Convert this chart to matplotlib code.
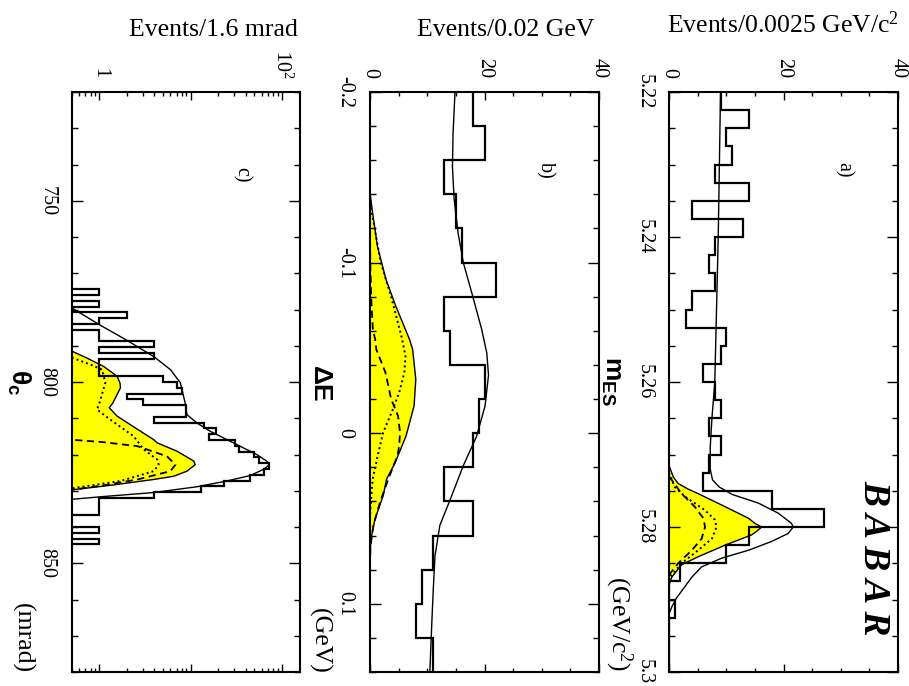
import matplotlib
matplotlib.use("Agg")
import matplotlib.pyplot as plt
import numpy as np
from matplotlib.ticker import MultipleLocator, LogLocator, NullFormatter

plt.rcParams["font.family"] = ["Liberation Serif", "DejaVu Serif"]
plt.rcParams["axes.unicode_minus"] = False
plt.rcParams["mathtext.fontset"] = "custom"
plt.rcParams["mathtext.rm"] = "Liberation Serif"
plt.rcParams["mathtext.it"] = "Liberation Serif:italic"
plt.rcParams["mathtext.bf"] = "Liberation Sans:bold"

# ---- panel a: m_ES ----
a_edges_lo, a_width = 5.22, 0.0025
a_counts = [9, 14, 10, 11, 8, 14, 4, 13, 8, 7, 8, 4, 3, 10, 9, 6,
            8, 9, 7, 9, 7, 6, 18, 27, 14, 10, 2, 0, 1, 0, 0, 0]
a_tot_x = [5.2200, 5.2300, 5.2400, 5.2500, 5.2600, 5.2650, 5.2690, 5.2720, 5.2735,
           5.2745, 5.2755, 5.2767, 5.2781, 5.2795, 5.2800, 5.2809, 5.2820, 5.2832,
           5.2843, 5.2855, 5.2869, 5.2882, 5.2898, 5.2910, 5.2920, 5.3000]
a_tot_y = [9.0, 8.8, 8.6, 8.3, 8.0, 7.5, 7.2, 7.2, 7.6,
           8.8, 11.0, 15.6, 19.1, 21.4, 21.7, 20.8, 17.9, 13.9,
           9.2, 5.7, 4.0, 2.8, 1.3, 0.5, 0.0, 0.0]
a_sig_x = [5.2715, 5.2731, 5.2740, 5.2748, 5.2754, 5.2772, 5.2788, 5.2795, 5.2800,
           5.2806, 5.2811, 5.2825, 5.2841, 5.2852, 5.2869, 5.2880]
a_sig_y = [0.0, 0.75, 1.6, 3.4, 5.1, 9.8, 13.9, 15.0, 16.2,
           15.3, 14.4, 9.8, 5.1, 2.2, 0.5, 0.0]
a_dot_x = [5.2725, 5.2745, 5.2758, 5.2777, 5.2790, 5.2800, 5.2816, 5.2832, 5.2850, 5.2869, 5.2878]
a_dot_y = [0.0, 1.0, 2.8, 6.3, 8.0, 8.3, 7.5, 5.1, 2.2, 0.2, 0.0]
a_dash_x = [5.2730, 5.2754, 5.2772, 5.2788, 5.2800, 5.2816, 5.2832, 5.2850, 5.2864, 5.2872]
a_dash_y = [0.0, 2.2, 4.5, 6.0, 6.3, 5.7, 4.0, 1.6, 0.2, 0.0]
a_ticks = [5.22, 5.24, 5.26, 5.28, 5.30]
a_ticklabels = ["5.22", "5.24", "5.26", "5.28", "5.3"]

# ---- panel b: Delta E ----
b_edges_lo, b_width = -0.20, 0.02
b_counts = [18, 20, 13, 15, 16, 22, 13, 14, 20, 19, 18, 13, 18, 11, 9, 8, 11]
b_tot_x = [-0.200, -0.175, -0.156, -0.137, -0.117, -0.100, -0.082, -0.061, -0.047,
           -0.034, -0.016, 0.002, 0.019, 0.039, 0.054, 0.072, 0.091, 0.111, 0.136, 0.140]
b_tot_y = [14.85, 14.5, 14.4, 14.7, 15.4, 16.3, 17.8, 19.5, 20.4,
           20.7, 20.1, 18.6, 16.3, 14.0, 12.2, 11.35, 11.06, 10.8, 10.5, 10.45]
b_sig_x = [-0.141, -0.129, -0.1095, -0.090, -0.0745, -0.055, -0.049, -0.0316, -0.016,
           0.0016, 0.0172, 0.0269, 0.0367, 0.0503, 0.062, 0.072]
b_sig_y = [0.0, 0.46, 1.3, 2.8, 4.5, 6.9, 7.45, 8.0, 7.7,
           6.3, 4.4, 2.9, 2.3, 0.87, 0.17, 0.0]
b_dot_x = [-0.135, -0.121, -0.0998, -0.0803, -0.056, -0.0452, -0.0355, -0.0238, -0.014,
           -0.0004, 0.0132, 0.0269, 0.0425, 0.050]
b_dot_y = [0.0, 0.76, 1.9, 3.67, 5.55, 6.2, 6.0, 5.1, 4.0,
           2.3, 1.34, 0.47, 0.1, 0.0]
b_dash_x = [-0.120, -0.100, -0.080, -0.0608, -0.055, -0.0491, -0.0355, -0.0199, -0.0101,
            -0.0004, 0.0074, 0.0132, 0.0269, 0.0405, 0.0542, 0.0659, 0.075]
b_dash_y = [0.0, 0.05, 0.2, 0.5, 0.9, 1.1, 2.7, 3.7, 4.9,
            5.24, 5.1, 4.8, 3.2, 1.75, 0.58, 0.1, 0.0]
b_ticks = [-0.2, -0.1, 0.0, 0.1]
b_ticklabels = ["-0.2", "-0.1", "0", "0.1"]

# ---- panel c: theta_c (log scale) ----
c_edges_lo, c_width = 772.8, 1.6
c_counts = [0, 1, 0, 1, 0, 2, 1, 0, 1, 1, 4, 1, 4, 1, 1, 1, 5, 7, 8, 2, 3, 9, 9,
            4, 14, 19, 16, 31, 34, 49, 56, 73, 63, 45, 23, 13, 4, 1, 1, 1, 0, 0,
            1, 0, 1, 0]
c_tot_x = [778.0, 779.6, 784.2, 788.5, 793.1, 796.6, 800.2, 805.8, 809.0, 811.3, 813.6,
           815.9, 818.2, 820.0, 821.8, 822.8, 824.1, 825.8, 827.3, 828.9, 830.5,
           831.6, 832.4, 833.5]
c_tot_y = [0.3, 0.5, 1.0, 2.0, 4.0, 6.0, 7.7, 8.7, 9.1, 11.7, 16.4,
           25.0, 38.0, 53.0, 68.0, 73.0, 63.0, 45.0, 25.0, 11.7, 3.9,
           1.1, 0.48, 0.3]
c_sig_x = [790.5, 791.5, 793.4, 795.7, 798.4, 800.3, 801.6, 805.8, 807.1, 809.4, 812.4,
           815.9, 816.8, 819.1, 821.8, 822.8, 824.6, 826.0, 826.9, 828.5, 829.8, 830.8]
c_sig_y = [0.3, 0.5, 0.73, 1.11, 1.56, 1.68, 1.7, 1.4, 1.28, 1.56, 2.38,
           3.93, 4.3, 7.1, 10.8, 11.2, 9.1, 6.5, 3.9, 1.32, 0.48, 0.3]
c_dot_x = [792.5, 793.3, 795.2, 796.6, 800.2, 805.8, 807.6, 810.4, 815.0, 818.6,
           821.4, 822.8, 824.6, 827.3, 829.4, 830.5]
c_dot_y = [0.3, 0.5, 0.8, 1.07, 1.16, 1.0, 0.94, 1.32, 2.38, 3.06,
           4.3, 4.46, 3.93, 1.7, 0.48, 0.3]
c_dash_x = [815.5, 815.9, 816.6, 817.7, 820.5, 822.8, 824.6, 826.9, 828.5, 829.8, 830.5]
c_dash_y = [0.3, 0.48, 1.11, 2.6, 5.5, 6.8, 6.0, 2.6, 1.11, 0.48, 0.3]
c_ticks = [750, 800, 850]
c_ticklabels = ["750", "800", "850"]

W, H = 909, 686
fig = plt.figure(figsize=(W / 100, H / 100), dpi=100)


def px_axes(x0, x1, y0=92, y1=672):
    return fig.add_axes([x0 / W, 1 - y1 / H, (x1 - x0) / W, (y1 - y0) / H])


def style_axes(ax):
    for side in ax.spines.values():
        side.set_linewidth(1.5)
    ax.tick_params(which="both", direction="in", top=True, bottom=True,
                   left=True, right=True, labeltop=True, labelbottom=False,
                   labelsize=14.5, width=1.0)
    ax.tick_params(axis="y", which="major", length=8, pad=11)
    ax.tick_params(axis="y", which="minor", length=4)
    ax.tick_params(axis="x", which="major", length=6, pad=10)
    ax.tick_params(axis="x", which="minor", length=3)


def draw_panel(ax, lo, width, counts, tot, sig, dot, dash, floor=0.0):
    edges = lo + width * np.arange(len(counts) + 1)
    ax.fill_betweenx(sig[0], floor, sig[1], color="#ffff00", lw=0, zorder=1)
    ax.plot(sig[1], sig[0], color="k", lw=1.0, zorder=2)
    ax.plot(dot[1], dot[0], color="k", lw=1.4, ls=(0, (1, 1.6)), zorder=3)
    ax.plot(dash[1], dash[0], color="k", lw=1.3, ls=(0, (4, 2.5)), zorder=3)
    ax.plot(tot[1], tot[0], color="k", lw=1.0, zorder=4)
    vals = np.asarray(counts, dtype=float)
    if floor > 0:
        vals = np.where(vals > 0, vals, 1e-3)
    ax.stairs(vals, edges, orientation="horizontal", baseline=None,
              color="k", lw=1.6, zorder=5)


# panel a
ax_a = px_axes(669, 898)
draw_panel(ax_a, a_edges_lo, a_width, a_counts, (a_tot_x, a_tot_y),
           (a_sig_x, a_sig_y), (a_dot_x, a_dot_y), (a_dash_x, a_dash_y))
ax_a.set_xlim(0, 40)
ax_a.set_ylim(5.30, 5.22)
ax_a.xaxis.set_major_locator(MultipleLocator(20))
ax_a.xaxis.set_minor_locator(MultipleLocator(5))
ax_a.yaxis.set_minor_locator(MultipleLocator(0.005))
style_axes(ax_a)
ax_a.set_yticks(a_ticks)
ax_a.set_yticklabels(a_ticklabels, rotation=-90, va="center", ha="right")
ax_a.set_xticks([0, 20, 40])
ax_a.set_xticklabels(["0", "20", "40"], rotation=-90, va="bottom", ha="center")

# panel b
ax_b = px_axes(370, 599)
draw_panel(ax_b, b_edges_lo, b_width, b_counts, (b_tot_x, b_tot_y),
           (b_sig_x, b_sig_y), (b_dot_x, b_dot_y), (b_dash_x, b_dash_y))
ax_b.set_xlim(0, 40)
ax_b.set_ylim(0.14, -0.20)
ax_b.xaxis.set_minor_locator(MultipleLocator(5))
ax_b.yaxis.set_minor_locator(MultipleLocator(0.02))
style_axes(ax_b)
ax_b.set_yticks(b_ticks)
ax_b.set_yticklabels(b_ticklabels, rotation=-90, va="center", ha="right")
ax_b.set_xticks([0, 20, 40])
ax_b.set_xticklabels(["0", "20", "40"], rotation=-90, va="bottom", ha="center")

# panel c
ax_c = px_axes(72, 300)
ax_c.set_xscale("log")
draw_panel(ax_c, c_edges_lo, c_width, c_counts, (c_tot_x, c_tot_y),
           (c_sig_x, c_sig_y), (c_dot_x, c_dot_y), (c_dash_x, c_dash_y), floor=1e-3)
ax_c.set_xlim(0.5, 158)
ax_c.set_ylim(880, 720)
ax_c.xaxis.set_minor_locator(LogLocator(base=10, subs=np.arange(2, 10)))
ax_c.xaxis.set_minor_formatter(NullFormatter())
ax_c.yaxis.set_minor_locator(MultipleLocator(10))
style_axes(ax_c)
ax_c.set_yticks(c_ticks)
ax_c.set_yticklabels(c_ticklabels, rotation=-90, va="center", ha="right")
ax_c.set_xticks([1, 10, 100])
ax_c.set_xticklabels(["1", "", "$10^{2}$"], rotation=-90, va="bottom", ha="center")

# labels
def ftext(x, y, s, **kw):
    fig.text(x / W, 1 - y / H, s, **kw)


ftext(783, 33, "Events/0.0025 GeV/c$^{2}$", fontsize=18.5, ha="center", va="baseline")
ftext(506, 36, "Events/0.02 GeV", fontsize=18.5, ha="center", va="baseline")
ftext(213, 36, "Events/1.6 mrad", fontsize=18.5, ha="center", va="baseline")

ftext(610, 381, r"$\mathbf{m_{ES}}$", fontsize=19, rotation=-90, ha="center", va="center")
ftext(619, 623, "(GeV/c$^{2}$)", fontsize=18.5, rotation=-90, ha="center", va="center")
ftext(320, 383, r"$\mathbf{\Delta E}$", fontsize=19, rotation=-90, ha="center", va="center")
ftext(319, 641, "(GeV)", fontsize=18.5, rotation=-90, ha="center", va="center")
ftext(19, 382, r"$\mathbf{\theta_{c}}$", fontsize=19, rotation=-90, ha="center", va="center")
ftext(22, 638, "(mrad)", fontsize=18.5, rotation=-90, ha="center", va="center")

ftext(843, 170, "a)", fontsize=14.5, rotation=-90, ha="center", va="center")
ftext(545, 170, "b)", fontsize=14.5, rotation=-90, ha="center", va="center")
ftext(241, 175, "c)", fontsize=14.5, rotation=-90, ha="center", va="center")

ftext(874, 558, "B A B A R", fontsize=27, fontweight="bold", fontstyle="italic",
      rotation=-90, ha="center", va="center")

fig.savefig("out.png", dpi=100)
